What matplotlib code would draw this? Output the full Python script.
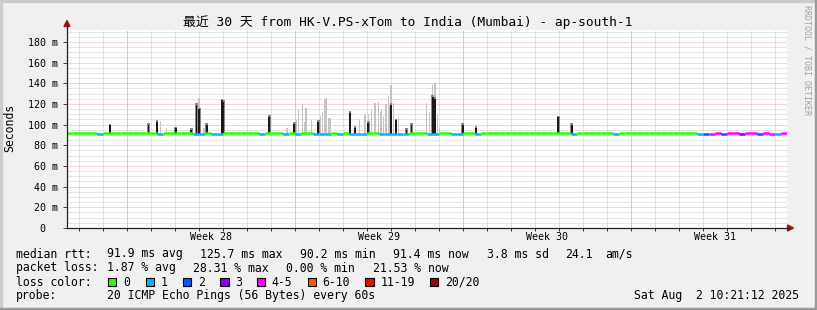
#!/usr/bin/env python3
"""
Gráfico estilo SmokePing: latencia mediana de los últimos 30 días
"""

import numpy as np
import matplotlib
matplotlib.use('Agg')
import matplotlib.pyplot as plt
from matplotlib.patches import Rectangle, Polygon
from matplotlib.lines import Line2D
from matplotlib.collections import LineCollection
from matplotlib.ticker import FixedLocator

W, H = 817, 310
MONO = ['DejaVu Sans Mono', 'Noto Sans CJK SC']
plt.rcParams['font.family'] = MONO

titulo = '最近 30 天 from HK-V.PS-xTom to India (Mumbai) - ap-south-1'

# eje x en días (0..30)
semanas = [6, 13, 20, 27]
etiquetas_semana = ['Week 28', 'Week 29', 'Week 30', 'Week 31']
lineas_semana = [2.5, 9.5, 16.5, 23.5]
lineas_dia = [d + 0.5 for d in range(30)]

# eje y en ms
ticks_y = [0, 20, 40, 60, 80, 100, 120, 140, 160, 180]
etiquetas_y = ['0  ', '20 m', '40 m', '60 m', '80 m', '100 m', '120 m',
               '140 m', '160 m', '180 m']
y_max = 191.5

# mediana cada 6 horas (120 tramos)
mediana = [
    91.6, 91.8, 91.5, 91.9, 91.7, 91.2, 91.6, 91.8,
    91.9, 91.7, 91.6, 91.8, 91.5, 91.7, 91.9, 91.3,
    91.6, 91.8, 91.7, 91.5, 91.6, 91.1, 91.3, 91.8,
    91.2, 91.0, 91.7, 91.6, 91.8, 91.9, 91.7, 91.6,
    91.2, 91.7, 91.8, 91.6, 91.3, 91.7, 91.0, 91.6,
    91.5, 91.1, 90.9, 91.0, 91.6, 91.0, 91.5, 90.9,
    91.0, 90.8, 91.6, 91.5, 91.0, 90.9, 91.1, 90.8,
    91.0, 91.6, 91.7, 91.5, 91.0, 90.9, 91.6, 91.7,
    91.1, 91.0, 91.7, 91.8, 91.2, 91.7, 91.9, 91.6,
    91.8, 91.7, 91.9, 91.6, 91.5, 91.8, 91.7, 91.9,
    91.6, 91.8, 91.7, 91.5, 91.1, 91.7, 91.9, 91.8,
    91.6, 91.7, 91.8, 91.2, 91.7, 91.6, 91.9, 91.8,
    91.7, 91.8, 92.1, 91.9, 91.6, 91.8, 91.7, 91.6,
    91.7, 91.2, 91.0, 91.3, 91.5, 91.2, 91.4, 91.6,
    91.3, 91.5, 91.4, 91.1, 91.5, 91.3, 91.2, 91.4,
]
# clase de pérdida por tramo (índice en colores_perdida)
perdida = [
    0, 0, 0, 0, 0, 1, 0, 0,
    0, 0, 0, 0, 0, 0, 0, 1,
    0, 0, 0, 0, 0, 1, 1, 0,
    1, 1, 0, 0, 0, 0, 0, 0,
    1, 0, 0, 0, 1, 0, 1, 0,
    0, 1, 1, 1, 0, 1, 0, 1,
    1, 1, 0, 0, 1, 1, 1, 1,
    1, 0, 0, 0, 1, 1, 0, 0,
    1, 1, 0, 0, 1, 0, 0, 0,
    0, 0, 0, 0, 0, 0, 0, 0,
    0, 0, 0, 0, 1, 0, 0, 0,
    0, 0, 0, 1, 0, 0, 0, 0,
    0, 0, 0, 0, 0, 0, 0, 0,
    0, 1, 2, 4, 4, 2, 4, 4,
    3, 4, 4, 2, 4, 4, 1, 4,
]
paso = 0.25

# humo claro (día, máximo en ms)
humo_dias = [3.88, 4.15, 5.50, 5.71, 8.42, 9.17, 9.55, 9.64, 9.82, 9.92,
             9.96, 10.20, 10.55, 10.65, 10.75, 10.82, 10.89, 10.96, 12.20,
             12.42, 12.55, 12.70, 12.83, 12.97, 13.05, 13.11, 13.20, 13.29,
             13.39, 13.45, 13.50, 13.60, 13.80, 14.99, 15.10, 15.24, 15.33,
             15.45, 15.51, 20.47]
humo_max = [103.5, 97, 125.4, 97, 109, 97, 104, 114, 120, 103,
            116, 104, 108, 112.5, 124.4, 125.4, 106, 106, 105,
            109, 110, 114, 120.5, 122, 112, 115, 108, 120,
            128, 118, 138, 121, 106, 121, 112, 138, 140,
            110, 98, 108]
# picos oscuros (día, máximo en ms)
pico_dias = [1.79, 3.39, 3.75, 4.53, 5.17, 5.40, 5.51, 5.82, 6.46, 6.52,
             8.43, 9.47, 10.47, 11.79, 12.00, 12.55, 13.50, 13.71, 14.15,
             14.36, 15.24, 15.33, 16.49, 17.04, 20.47, 21.03]
pico_max = [99.5, 99.6, 103, 96.5, 94.8, 119, 115, 99.6, 123.7, 122,
            107.6, 100.6, 103, 111.5, 97, 102, 119, 104, 95,
            100, 127, 125, 99.6, 97, 107, 99.6]
base_humo = 91.0

# leyenda
colores_perdida = ['#26ff00', '#00b8ff', '#0059ff', '#7e00ff',
                   '#ff00ff', '#ff5500', '#ff0000', '#a00000']
etiquetas_perdida = ['0', '1', '2', '3', '4-5', '6-10', '11-19', '20/20']
fila_rtt = ['median rtt:', '91.9 ms avg', '125.7 ms max', '90.2 ms min',
            '91.4 ms now', '3.8 ms sd', '24.1', 'am/s']
fila_perdida = ['packet loss:', '1.87 % avg', '28.31 % max', '0.00 % min',
                '21.53 % now']
sonda = ['probe:', '20 ICMP Echo Pings (56 Bytes) every 60s']
fecha = 'Sat Aug  2 10:21:12 2025'


def fx(x):
    return x / W


def fy(y):
    return 1 - y / H


def texto(fig, x, y, s, **kw):
    kw.setdefault('fontsize', 8.3)
    kw.setdefault('ha', 'left')
    kw.setdefault('va', 'baseline')
    fig.text(fx(x), fy(y), s, family=MONO, color='black', **kw)


def marco(fig):
    """Fondo gris con sombreado tipo rrdtool"""
    fig.patch.set_facecolor('#F0F0F0')
    fig.patches.append(Rectangle((0, fy(2)), 1, 2 / H, transform=fig.transFigure,
                                 color='#CBCBCB', zorder=0))
    fig.patches.append(Rectangle((0, 0), 2 / W, 1, transform=fig.transFigure,
                                 color='#CBCBCB', zorder=0))
    fig.patches.append(Rectangle((0, 0), 1, 2.5 / H, transform=fig.transFigure,
                                 color='#999999', zorder=0))
    fig.patches.append(Rectangle((1 - 2.5 / W, 0), 2.5 / W, 1, transform=fig.transFigure,
                                 color='#999999', zorder=0))


def graficar():
    fig = plt.figure(figsize=(W / 100, H / 100), dpi=100)
    marco(fig)

    ax = fig.add_axes([fx(67), fy(228), 720 / W, 198 / H])
    ax.set_facecolor('white')
    ax.set_xlim(0, 30)
    ax.set_ylim(0, y_max)
    for s in ax.spines.values():
        s.set_visible(False)

    # rejilla
    punteado = (0, (1, 1))
    ax.set_yticks(ticks_y)
    ax.set_yticklabels(etiquetas_y)
    ax.yaxis.set_minor_locator(FixedLocator(np.arange(5, y_max, 5)))
    ax.set_xticks(semanas)
    ax.set_xticklabels(etiquetas_semana)
    ax.xaxis.set_minor_locator(FixedLocator(lineas_dia))
    ax.grid(which='minor', color='#CACACA', ls=punteado, lw=0.72)
    ax.grid(which='major', axis='y', color='#EBA8A8', ls=punteado, lw=0.72)
    ax.grid(which='major', axis='x', visible=False)
    for d in lineas_semana:
        ax.axvline(d, color='#EBA8A8', ls=punteado, lw=0.72, zorder=0.6)
    ax.set_axisbelow(True)

    ax.tick_params(axis='x', which='major', length=0, pad=3.2, labelsize=7.2)
    ax.tick_params(axis='x', which='minor', length=2, width=0.72,
                   color='#404040', direction='out')
    ax.tick_params(axis='y', which='major', length=3, width=0.72,
                   color='#404040', pad=3.8, labelsize=7.2)
    ax.tick_params(axis='y', which='minor', length=0)

    # humo
    ax.bar(humo_dias, np.array(humo_max) - base_humo, bottom=base_humo,
           width=0.05, color='#C4C4C4', linewidth=0, zorder=2)
    alto_pico = np.array(pico_max) - base_humo
    ax.bar(pico_dias, alto_pico + 1.5, bottom=base_humo,
           width=0.12, color='#8A8A8A', linewidth=0, zorder=2.5)
    ax.bar(pico_dias, alto_pico, bottom=base_humo,
           width=0.07, color='#1A1A1A', linewidth=0, zorder=3)

    # mediana coloreada según pérdida
    segs, cols = [], []
    for i, m in enumerate(mediana):
        d0 = i * paso
        c = colores_perdida[perdida[i]]
        if i > 0:
            segs.append([(d0, mediana[i - 1]), (d0, m)])
            cols.append(c)
        segs.append([(d0, m), (d0 + paso, m)])
        cols.append(c)
    ax.add_collection(LineCollection(segs, colors=cols, linewidths=1.8,
                                     capstyle='butt', zorder=4))

    # ejes con flechas
    fig.lines.append(Line2D([fx(67), fx(67)], [fy(228), fy(25)],
                            transform=fig.transFigure, color='#202020', lw=0.9))
    fig.lines.append(Line2D([fx(67), fx(789)], [fy(228), fy(228)],
                            transform=fig.transFigure, color='#202020', lw=0.9))
    fig.patches.append(Polygon([(fx(64), fy(26.5)), (fx(70), fy(26.5)), (fx(67), fy(20.5))],
                               closed=True, transform=fig.transFigure, color='#A01010'))
    fig.patches.append(Polygon([(fx(787.5), fy(225)), (fx(787.5), fy(231)), (fx(793.5), fy(228))],
                               closed=True, transform=fig.transFigure, color='#A01010'))

    # textos
    texto(fig, 408, 26, titulo, fontsize=9.3, ha='center')
    fig.text(fx(10), fy(128), 'Seconds', family=MONO, fontsize=8.3,
             rotation=90, ha='center', va='center')
    fig.text(fx(807), fy(5), 'RRDTOOL / TOBI OETIKER', family=MONO, fontsize=6,
             color='#A0A0A0', rotation=270, ha='center', va='top')

    x_rtt = [16, 107.3, 200, 300, 393.3, 486.7, 565, 605]
    for x, s in zip(x_rtt, fila_rtt):
        texto(fig, x, 257.5, s)
    x_perd = [16, 107.3, 193.3, 286, 372.7]
    for x, s in zip(x_perd, fila_perdida):
        texto(fig, x, 271.5, s)

    texto(fig, 16, 285.5, 'loss color:')
    x_caja = [108, 145.7, 182.7, 220, 256.7, 307.7, 365.3, 430]
    for x, c, s in zip(x_caja, colores_perdida, etiquetas_perdida):
        fig.patches.append(Rectangle((fx(x), fy(286.3)), 8.5 / W, 8.5 / H,
                                     transform=fig.transFigure, facecolor=c,
                                     edgecolor='black', lw=0.8))
        texto(fig, x + 15, 285.5, s)

    texto(fig, 16, 299.5, sonda[0])
    texto(fig, 107.3, 299.5, sonda[1])
    texto(fig, 799.3, 299.5, fecha, ha='right')

    fig.savefig('out.png', dpi=100, facecolor=fig.get_facecolor())
    print("Gráfico guardado como 'out.png'")


if __name__ == "__main__":
    graficar()
